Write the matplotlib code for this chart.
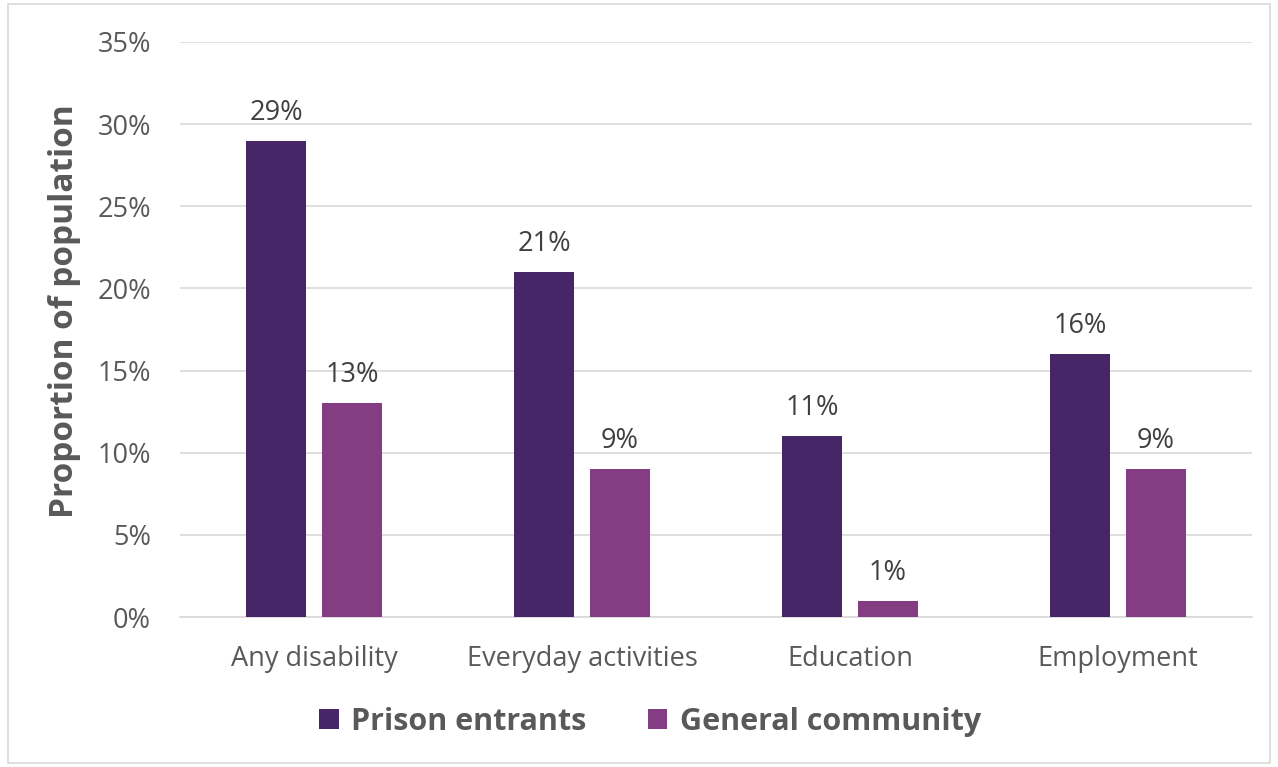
import matplotlib
matplotlib.use("Agg")
import matplotlib.pyplot as plt
import numpy as np
from matplotlib.patches import Rectangle

categories = ["Any disability", "Everyday activities", "Education", "Employment"]
prison = [29, 21, 11, 16]
community = [13, 9, 1, 9]
series_names = ["Prison entrants", "General community"]
yticks = [0, 5, 10, 15, 20, 25, 30, 35]

c_prison = "#472668"
c_comm = "#843C82"
txt = "#595959"

plt.rcParams['font.family'] = ['Open Sans', 'DejaVu Sans']

fig = plt.figure(figsize=(12.78, 7.67), dpi=100)
ax = fig.add_axes([180/1278, 1-617/767, (1252-180)/1278, (617-42)/767])

x = np.arange(len(categories))
w = 0.224
off = 0.142
b1 = ax.bar(x - off, prison, w, color=c_prison, label=series_names[0], zorder=3)
b2 = ax.bar(x + off, community, w, color=c_comm, label=series_names[1], zorder=3)

for bars, vals in ((b1, prison), (b2, community)):
    for r, v in zip(bars, vals):
        ax.text(r.get_x() + r.get_width()/2, v + 0.85, f"{v}%", ha="center", va="bottom",
                fontsize=19.5, color="#404040")

ax.set_xlim(-0.5, len(categories) - 0.5)
ax.set_ylim(0, 35)
ax.set_yticks(yticks)
ax.set_yticklabels([f"{t}%" for t in yticks], fontsize=19.5, color=txt)
ax.set_xticks(x)
ax.set_xticklabels(categories, fontsize=19.5, color=txt)
ax.tick_params(axis='both', length=0)
ax.tick_params(axis='y', pad=21)
ax.tick_params(axis='x', pad=20)
ax.grid(axis='y', color="#d9d9d9", linewidth=1.2, zorder=0)
for s in ["top", "right", "left"]:
    ax.spines[s].set_visible(False)
ax.spines["bottom"].set_color("#d9d9d9")
ax.spines["bottom"].set_linewidth(1.2)

ax.set_ylabel("Proportion of population", fontsize=24, fontweight="bold", color=txt)
ax.yaxis.set_label_coords(-0.092, 0.532)

leg = fig.legend(handles=[b1, b2], loc="center", bbox_to_anchor=(650/1278, 1-722/767), ncol=2,
                 frameon=False, prop={"size": 22, "weight": "bold"}, handlelength=0.65,
                 handleheight=0.65, handletextpad=0.4, columnspacing=2.0)
for t in leg.get_texts():
    t.set_color(txt)

fig.patches.append(Rectangle((8/1278, 4/767), 1 - 16/1278, 1 - 8/767, transform=fig.transFigure,
                             fill=False, edgecolor="#d9d9d9", linewidth=1.2))

fig.savefig("out.png", dpi=100)
